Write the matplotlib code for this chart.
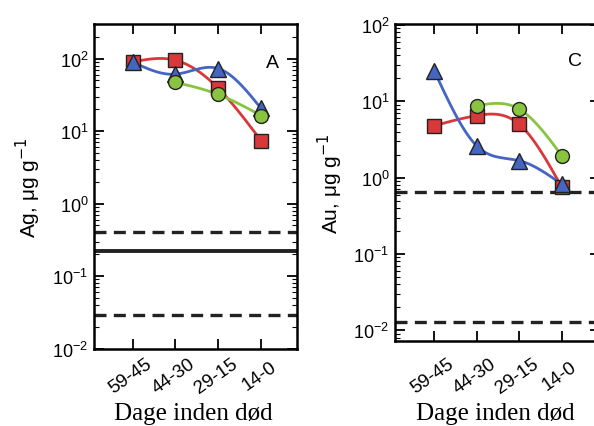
import numpy as np
import matplotlib
matplotlib.use("Agg")
import matplotlib.pyplot as plt
from matplotlib.ticker import LogLocator, NullFormatter
import matplotlib.transforms as mtransforms

categories = ["59-45", "44-30", "29-15", "14-0"]

# Panel A (Ag)
ag_red = [90, 95, 39, 7.4]
ag_blue = [90, 61, 73, 20.6]
ag_green = [None, 47, 32, 16.4]
ag_dashed = [0.41, 0.029]
ag_solid = [0.224]

# Panel C (Au)
au_red = [4.8, 6.5, 5.0, 0.75]
au_blue = [25, 2.6, 1.67, 0.82]
au_green = [None, 8.75, 7.9, 1.94]
au_dashed = [0.65, 0.0127]

RED = "#d8383a"
BLUE = "#4465c2"
GREEN = "#88c440"


def natural_spline(x, y, n=60):
    x = np.asarray(x, float)
    y = np.asarray(y, float)
    k = len(x)
    if k < 3:
        xs = np.linspace(x[0], x[-1], n)
        return xs, np.interp(xs, x, y)
    h = np.diff(x)
    A = np.zeros((k, k))
    b = np.zeros(k)
    A[0, 0] = 1
    A[-1, -1] = 1
    for i in range(1, k - 1):
        A[i, i - 1] = h[i - 1]
        A[i, i] = 2 * (h[i - 1] + h[i])
        A[i, i + 1] = h[i]
        b[i] = 3 * ((y[i + 1] - y[i]) / h[i] - (y[i] - y[i - 1]) / h[i - 1])
    c = np.linalg.solve(A, b)
    xs_all, ys_all = [], []
    for i in range(k - 1):
        bi = (y[i + 1] - y[i]) / h[i] - h[i] * (2 * c[i] + c[i + 1]) / 3
        di = (c[i + 1] - c[i]) / (3 * h[i])
        t = np.linspace(0, h[i], n)
        xs_all.append(x[i] + t)
        ys_all.append(y[i] + bi * t + c[i] * t ** 2 + di * t ** 3)
    return np.concatenate(xs_all), np.concatenate(ys_all)


def draw_series(ax, vals, color, marker, ms):
    xs = [i for i, v in enumerate(vals) if v is not None]
    ys = [v for v in vals if v is not None]
    sx, sy = natural_spline(xs, np.log10(ys))
    ax.plot(sx, 10 ** sy, color=color, lw=2.0, zorder=3)
    ax.plot(xs, ys, linestyle="none", marker=marker, ms=ms, mfc=color,
            mec="#222222", mew=1.0, zorder=4)


plt.rcParams["font.family"] = ["Liberation Sans", "DejaVu Sans"]
plt.rcParams["axes.unicode_minus"] = False
fig = plt.figure(figsize=(5.94, 4.27), dpi=100)

axA = fig.add_axes([94 / 594, 77 / 427, 203 / 594, 325 / 427])
axC = fig.add_axes([395 / 594, 85.3 / 427, 205 / 594, 316.7 / 427])


def style_axes(ax, xlim, ylim, label, panel, ylabel_x, xlabel_xy, panel_xy, tick_dy):
    ax.set_yscale("log")
    ax.set_xlim(*xlim)
    ax.set_ylim(*ylim)
    ax.set_xticks(range(len(categories)))
    ax.set_xticklabels([])
    trans = mtransforms.blended_transform_factory(ax.transData, ax.transAxes)
    off = mtransforms.ScaledTranslation(-2 / 100, -tick_dy / 100, fig.dpi_scale_trans)
    for i, cat in enumerate(categories):
        ax.text(i, 0, cat, transform=trans + off, rotation=35, ha="center",
                va="center", fontsize=13.5, clip_on=False)
    ax.yaxis.set_major_locator(LogLocator(base=10, numticks=10))
    ax.yaxis.set_minor_locator(LogLocator(base=10, subs=np.arange(2, 10), numticks=20))
    ax.yaxis.set_minor_formatter(NullFormatter())
    ax.tick_params(axis="both", which="major", direction="in", length=7,
                   width=1.3, top=True, right=True, labelsize=13, pad=4)
    ax.tick_params(axis="y", which="minor", direction="in", length=3.5,
                   width=0.8, left=True, right=True)
    ax.tick_params(axis="x", which="minor", bottom=False, top=False)
    for s in ax.spines.values():
        s.set_linewidth(1.8)
    ax.set_ylabel(label, fontsize=15)
    ax.yaxis.set_label_coords(ylabel_x, 0.5)
    ax.set_xlabel("Dage inden død", family=["Liberation Serif", "DejaVu Serif"],
                  fontsize=18, va="baseline")
    ax.xaxis.set_label_coords(*xlabel_xy)
    ax.text(panel_xy[0], panel_xy[1], panel, transform=ax.transAxes, fontsize=14,
            ha="center", va="center")


style_axes(axA, (-0.9, 3.84), (0.0099, 300), "Ag, μg g$^{-1}$", "A", -0.25,
           (0.488, -0.215), (0.88, 0.88), 27)
style_axes(axC, (-0.925, 3.9), (0.0073, 103), "Au, μg g$^{-1}$", "C", -0.244,
           (0.488, -0.247), (0.88, 0.885), 35.3)

for y in ag_dashed:
    axA.axhline(y, color="#222222", lw=2.4, ls=(0, (3.6, 2.2)), zorder=2)
for y in ag_solid:
    axA.axhline(y, color="#222222", lw=2.8, zorder=2)
for y in au_dashed:
    axC.axhline(y, color="#222222", lw=2.4, ls=(0, (3.6, 2.2)), zorder=2)

for ax, r, b, g in [(axA, ag_red, ag_blue, ag_green), (axC, au_red, au_blue, au_green)]:
    draw_series(ax, r, RED, "s", 10)
    draw_series(ax, b, BLUE, "^", 11)
    draw_series(ax, g, GREEN, "o", 10)

fig.savefig("out.png", dpi=100)
